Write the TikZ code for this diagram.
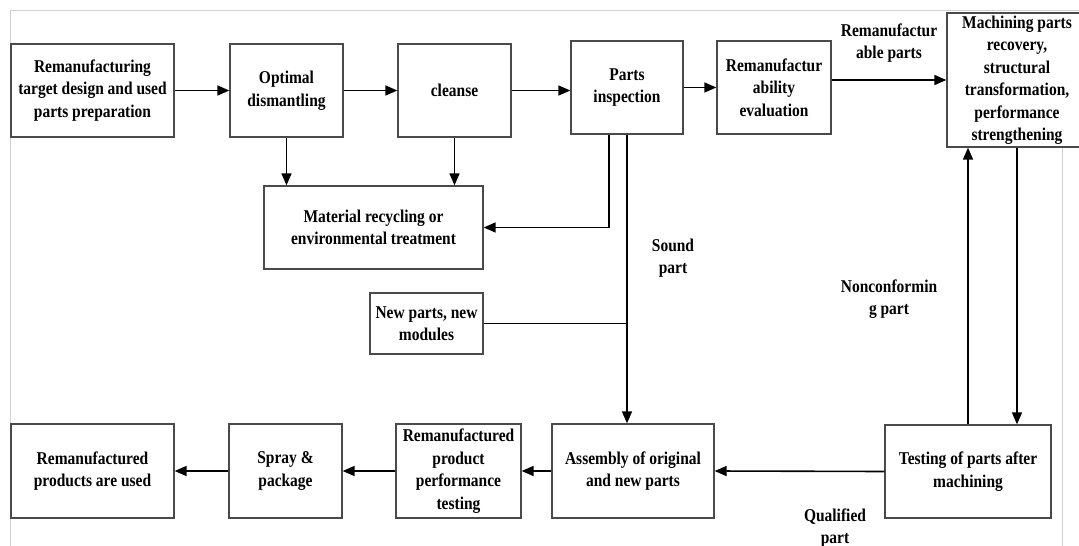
\documentclass[tikz,border=0pt]{standalone}
\usepackage{fontspec}
\setmainfont{Liberation Serif}[FakeStretch=0.86]
\usepackage{tikz}
\usetikzlibrary{calc,arrows.meta}
\definecolor{frame}{HTML}{4A4A4A}
\definecolor{margin}{HTML}{D0D0D0}
\tikzset{
  box/.style={draw=frame, fill=white, line width=1.3pt, align=center, inner sep=0pt,
    font=\bfseries\fontsize{18}{22.5}\selectfont},
  flow/.style={draw=black, line width=1.6pt, -{Triangle[length=12pt,width=10pt]}},
  link/.style={draw=black, line width=1.6pt},
  lab/.style={align=center, font=\bfseries\fontsize{18}{22.5}\selectfont},
  edge/.style={draw=margin, line width=1pt}
}

\begin{document}
\begin{tikzpicture}[x=1pt,y=-1pt]
  \useasboundingbox (0,0) rectangle (1079,546);
  \clip (0,0) rectangle (1079,546);

  % page margin marks
  \draw[edge] (10.5,546) -- (10.5,10.5) -- (1079,10.5);
  \draw[edge] (1062,140) -- (1062,546);

  % top row
  \node[box, minimum width=163, minimum height=93] (prep) at (92.5,90.5)
    {Remanufacturing\\target design and used\\parts preparation};
  \node[box, minimum width=113, minimum height=93] (dism) at (286.5,90.5)
    {Optimal\\dismantling};
  \node[box, minimum width=113, minimum height=93] (clean) at (454.5,90.5)
    {cleanse};
  \node[box, minimum width=112, minimum height=93] (insp) at (627,87.5)
    {Parts\\inspection};
  \node[box, minimum width=114, minimum height=93] (eval) at (774,87.5)
    {Remanufactur\\ability\\evaluation};
  \node[box, minimum width=140, minimum height=134] (mach) at (1017,80)
    {Machining parts\\recovery,\\structural\\transformation,\\performance\\strengthening};

  % middle
  \node[box, minimum width=219, minimum height=83] (recyc) at (373.5,227.5)
    {Material recycling or\\environmental treatment};
  \node[box, minimum width=113, minimum height=61] (newp) at (426.5,323.5)
    {New parts, new\\modules};

  % bottom row
  \node[box, minimum width=163, minimum height=94] (used) at (92.5,471)
    {Remanufactured\\products are used};
  \node[box, minimum width=113, minimum height=94] (spray) at (285.5,471)
    {Spray \&\\package};
  \node[box, minimum width=125, minimum height=94] (perf) at (458.5,471)
    {Remanufactured\\product\\performance\\testing};
  \node[box, minimum width=162, minimum height=94] (asm) at (633,471)
    {Assembly of original\\and new parts};
  \node[box, minimum width=166, minimum height=93] (test) at (968,471.5)
    {Testing of parts after\\machining};

  % labels
  \node[lab] (lremf) at (889,43) {Remanufactur\\able parts};
  \node[lab] (lsound) at (673,258) {Sound\\part};
  \node[lab] (lnonc) at (889,299) {Nonconformin\\g part};
  \node[lab] (lqual) at (835,528) {Qualified\\part};

  % connectors
  \draw[flow] (prep.east) -- (dism.west);
  \draw[flow] (dism.east) -- (clean.west);
  \draw[flow] (clean.east) -- (clean.east -| insp.west);
  \draw[flow] (insp.east) -- (eval.west);
  \draw[flow] (eval.east |- mach.west) -- (mach.west);
  \draw[flow] (dism.south) -- (dism.south |- recyc.north);
  \draw[flow] (clean.south) -- (clean.south |- recyc.north);
  \draw[flow] ($(insp.south)+(-18,0)$) |- (recyc.east);
  \draw[link] (newp.east) -- (newp.east -| insp.south);
  \draw[flow] (insp.south) -- (insp.south |- asm.north);
  \draw[flow] (mach.south) -- (mach.south |- test.north);
  \draw[flow] (test.north) -- (test.north |- mach.south);
  \draw[flow] (test.west) -- (asm.east);
  \draw[flow] (asm.west) -- (perf.east);
  \draw[flow] (perf.west) -- (spray.east);
  \draw[flow] (spray.west) -- (used.east);
\end{tikzpicture}
\end{document}
